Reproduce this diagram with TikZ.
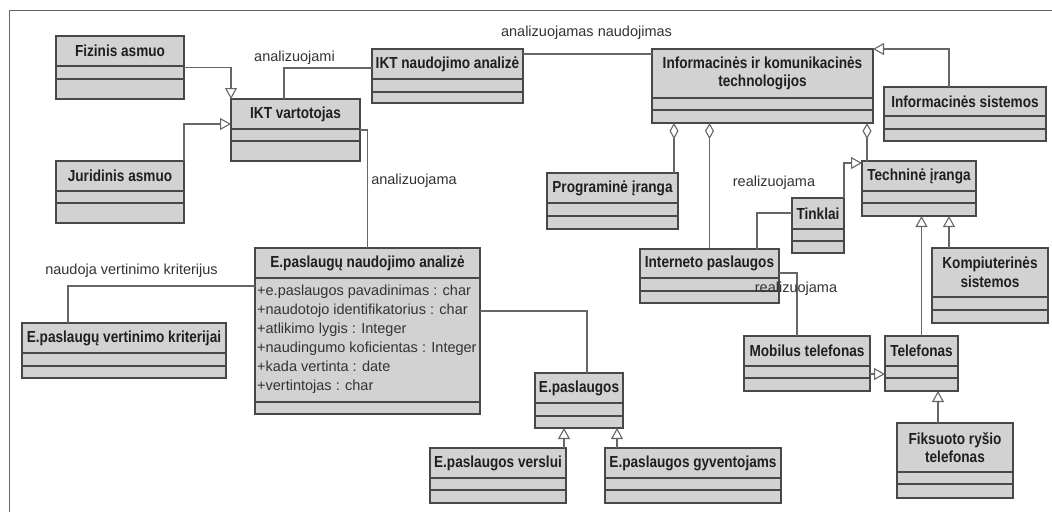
\documentclass[tikz,border=0pt]{standalone}
\usepackage{fontspec}
\setmainfont{Liberation Sans}
\newfontfamily\classfont[FakeStretch=0.85]{Liberation Sans}
\usetikzlibrary{arrows.meta}
\definecolor{boxfill}{HTML}{D2D2D2}
\definecolor{boxdraw}{HTML}{484848}
\definecolor{linkgray}{HTML}{666666}
\definecolor{textgray}{HTML}{333333}

\newcommand{\umlclass}[8]{%
  \node[classbox, minimum width={#4-#2}, minimum height={#5-#3}] (#1) at (#2,#3) {};
  \draw[classsep] (#2,#6) -- (#4,#6) (#2,#7) -- (#4,#7);
  \node[classname] (#1-name) at ({(#2+#4)/2},{(#3+#6)/2}) {#8};
}

\begin{document}
\begin{tikzpicture}[x=1pt,y=-1pt,
  classbox/.style={draw=boxdraw, fill=boxfill, line width=1.2pt, inner sep=0, outer sep=0, anchor=north west},
  classsep/.style={draw=boxdraw, line width=1.2pt},
  classname/.style={font=\classfont\bfseries\fontsize{16}{18.5}\selectfont, text=black!88, align=center, inner sep=0},
  attr/.style={font=\fontsize{14.5}{17}\selectfont, text=textgray, inner sep=0, anchor=base west},
  lbl/.style={font=\fontsize{14.5}{17}\selectfont, text=textgray, inner sep=0},
  link/.style={draw=linkgray, line width=1.1pt},
  gen/.style={link, -{Triangle[open, length=11pt, width=12pt, fill=white]}},
  agg/.style={link, -{Diamond[open, length=16pt, width=9pt, fill=white]}}]
\path[fill=white] (0,0) rectangle (1052,512);
\useasboundingbox (0,0) rectangle (1052,512);
\draw[linkgray, line width=1pt] (9,512) -- (9,10) -- (1052,10);

\umlclass{fiz}{56}{36}{184}{99}{66}{79}{Fizinis asmuo}
\umlclass{jur}{56}{161}{184}{223}{191}{203}{Juridinis asmuo}
\umlclass{ikt}{231}{99}{360}{161}{129}{141}{IKT vartotojas}
\umlclass{iktna}{372}{49}{523}{103}{79}{92}{IKT naudojimo analizė}
\umlclass{ict}{652}{49}{873}{123}{98}{110}{Informacinės ir komunikacinės\\technologijos}
\umlclass{is}{884}{87}{1046}{141}{116}{129}{Informacinės sistemos}
\umlclass{prog}{547}{173}{678}{229}{203}{216}{Programinė įranga}
\umlclass{inet}{640}{249}{779}{303}{278}{291}{Interneto paslaugos}
\umlclass{tink}{792}{198}{844}{253}{229}{241}{Tinklai}
\umlclass{tech}{862}{161}{976}{216}{191}{203}{Techninė įranga}
\umlclass{komp}{932}{248}{1048}{323}{297}{310}{Kompiuterinės\\sistemos}
\umlclass{mob}{744}{336}{870}{391}{366}{378}{Mobilus telefonas}
\umlclass{tel}{885}{336}{958}{391}{366}{378}{Telefonas}
\umlclass{fix}{897}{423}{1013}{498}{472}{484}{Fiksuoto ryšio\\telefonas}
\umlclass{epna}{255}{248}{480}{414}{278}{402}{E.paslaugų naudojimo analizė}
\umlclass{krit}{22}{323}{226}{378}{353}{366}{E.paslaugų vertinimo kriterijai}
\umlclass{eps}{535}{373}{623}{428}{403}{416}{E.paslaugos}
\umlclass{versl}{430}{448}{566}{503}{478}{490}{E.paslaugos verslui}
\umlclass{gyv}{605}{448}{781}{503}{478}{490}{E.paslaugos gyventojams}

\foreach \t [count=\i] in {+e.paslaugos pavadinimas : char, +naudotojo identifikatorius : char,
    +atlikimo lygis : Integer, +naudingumo koficientas : Integer, +kada vertinta : date, +vertintojas : char}
  \node[attr] (attr\i) at (257,{276+19*\i}) {\t};

\draw[gen] (fiz.east) -| (ikt.north west);
\draw[gen] (jur.north east) |- ([yshift=6pt]ikt.west);
\draw[link] ([xshift=-11.5pt]ikt.north) |- ([yshift=8pt]iktna.west);
\draw[link] ([yshift=-5pt]iktna.north east) -- ([yshift=-5pt]ict.north west);
\draw[gen] ([xshift=-16pt]is.north) |- (ict.north east);
\draw[agg] ([xshift=-4pt]prog.north east) -- ([xshift=-4pt]prog.north east |- ict.south);
\draw[agg] (inet.north) -- (inet.north |- ict.south);
\draw[agg] ([xshift=5pt]tech.north west) -- ([xshift=5pt]tech.north west |- ict.south);
\draw[gen] (tink.north east) |- ([yshift=-2pt]tech.north west);
\draw[link] ([xshift=47.5pt]inet.north) |- ([yshift=12.5pt]tink.west);
\draw[link] ([yshift=3pt]inet.east) -| ([xshift=-10pt]mob.north);
\draw[gen] ([yshift=-10.5pt]mob.east) -- ([yshift=-10.5pt]tel.west);
\draw[gen] ([xshift=-41pt]komp.north) -- ([xshift=-41pt]komp.north |- tech.south);
\draw[gen] (tel.north) -- (tel.north |- tech.south);
\draw[gen] ([xshift=-17pt]fix.north) -- ([xshift=-17pt]fix.north |- tel.south);
\draw[link] (ikt.east) -| (epna.north);
\draw[link] ([yshift=45pt]epna.west) -| ([xshift=-56pt]krit.north);
\draw[link] ([yshift=20pt]epna.east) -| ([xshift=8pt]eps.north);
\draw[gen] ([xshift=-2pt]versl.north east) -- ([xshift=-2pt]versl.north east |- eps.south);
\draw[gen] ([xshift=12pt]gyv.north west) -- ([xshift=12pt]gyv.north west |- eps.south);

\node[lbl] (lblusage) at (586.5,33) {analizuojamas naudojimas};
\node[lbl] (lblusers) at (294.5,58) {analizuojami};
\node[lbl] (lbleserv) at (414,181) {analizuojama};
\node[lbl] (lblnet) at (774,183) {realizuojama};
\node[lbl] (lblmob) at (796,289) {realizuojama};
\node[lbl] (lblcrit) at (131.5,271) {naudoja vertinimo kriterijus};
\end{tikzpicture}
\end{document}
